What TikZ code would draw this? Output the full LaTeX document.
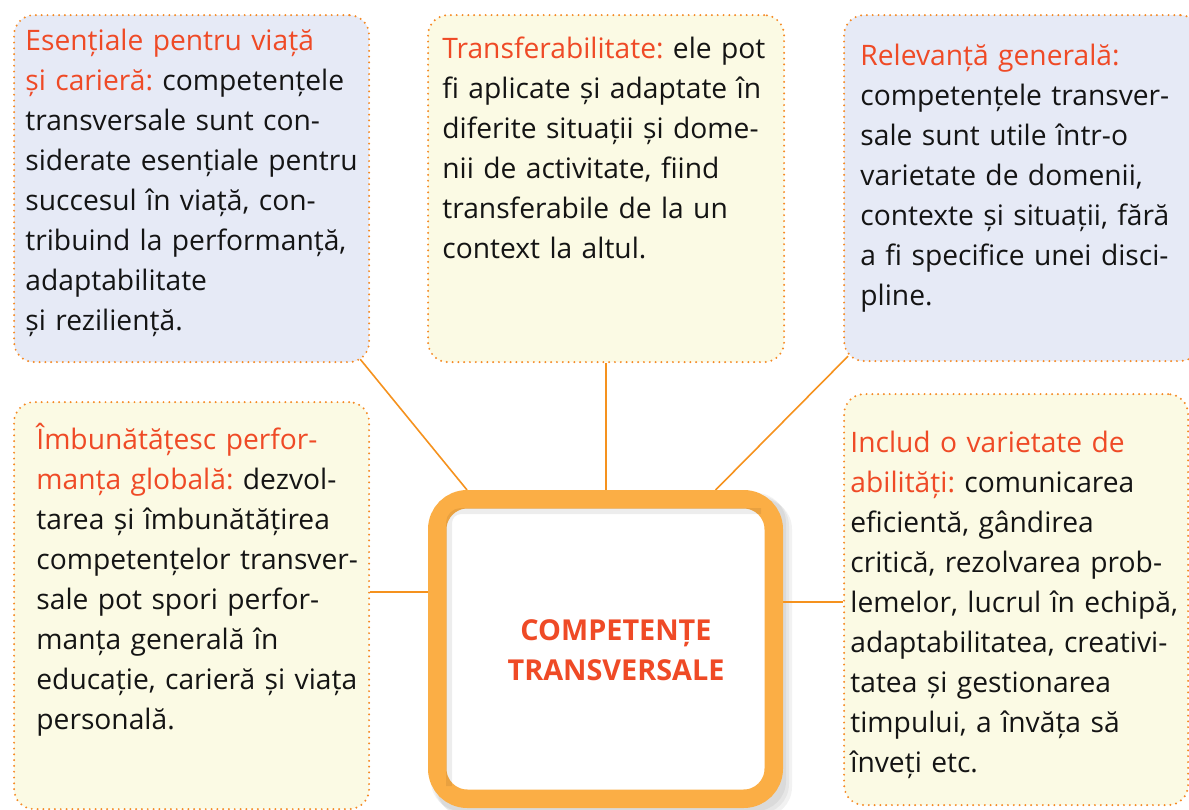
\documentclass[tikz,border=0pt]{standalone}
\usepackage{fontspec}
\setmainfont{Open Sans}
\usetikzlibrary{positioning,backgrounds,calc}
\frenchspacing

\definecolor{headred}{HTML}{EF4A26}
\definecolor{dotorange}{HTML}{F58A25}
\definecolor{linkorange}{HTML}{F5921E}
\definecolor{ringorange}{HTML}{FBAE45}
\definecolor{cardblue}{HTML}{E6EAF6}
\definecolor{cardyellow}{HTML}{FBFAE4}

\tikzset{
  card/.style={draw=dotorange, line width=1.1pt, dash pattern=on 0pt off 2.9pt,
    line cap=round, rounded corners=10pt, anchor=north west, inner sep=0pt},
  cardtext/.style={anchor=base west, align=left, text width=220pt, inner sep=0pt,
    font=\fontsize{14.1}{20}\selectfont, text=black!92},
  link/.style={draw=linkorange, line width=0.8pt},
  hub/.style={draw=ringorange, line width=9.25pt, rounded corners=15pt, fill=white,
    inner sep=0pt, minimum width=168.25pt, minimum height=149.75pt},
  hubtext/.style={align=center, inner sep=0pt, text=headred,
    font=\bfseries\fontsize{14.4}{20}\selectfont}
}
\newcommand{\head}[1]{\textcolor{headred}{#1}}

\begin{document}
\begin{tikzpicture}[x=0.5pt, y=-0.5pt]
  \useasboundingbox (0,0) rectangle (1189,809);

  % cards
  \node[card, fill=cardblue, minimum width=177.5pt, minimum height=173.5pt] (esent) at (13,14) {};
  \node[card, fill=cardyellow, minimum width=178pt, minimum height=173.5pt] (transf) at (427,14) {};
  \node[card, fill=cardblue, minimum width=178pt, minimum height=173pt] (relev) at (843,14) {};
  \node[card, fill=cardyellow, minimum width=177.5pt, minimum height=203.5pt] (improve) at (13,401) {};
  \node[card, fill=cardyellow, minimum width=172pt, minimum height=205.5pt] (incl) at (843,393) {};

  % center
  \node[hub] (hub) at (605.5,649) {};
  \draw[black, opacity=0.07, line width=3pt, rounded corners=6pt]
    ($(hub.south west)+(21,-22)$) |- ($(hub.north east)+(-22,21)$);
  \node[hubtext] (hubtitle) at (616,650) {COMPETENȚE\\TRANSVERSALE};

  \begin{scope}[on background layer]
    \foreach \s in {3,6,9}
      \fill[black, opacity=0.05, rounded corners=15pt]
        ($(hub.north west)+(\s,\s)$) rectangle ($(hub.south east)+(\s,\s)$);
    \draw[link] ($(esent.south east)+(-10,-4)$) -- ($(hub.north west)!0.11!(hub.north east)$);
    \draw[link] (transf.south) -- (transf.south |- hub.north);
    \draw[link] ($(relev.south west)+(5,-6)$) -- ($(hub.north west)!0.81!(hub.north east)$);
    \draw[link] (improve.east |- 0,592) -- (hub.west |- 0,592);
    \draw[link] (hub.east |- 0,602) -- (incl.west |- 0,602);
  \end{scope}

  % texts
  \node[cardtext] (esent-t) at (25,50) {\head{Esențiale pentru viață}\\
    \head{și carieră:} competențele\\
    transversale sunt con-\\
    siderate esențiale pentru\\
    succesul în viață, con-\\
    tribuind la performanță,\\
    adaptabilitate\\
    și reziliență.};
  \node[cardtext] (transf-t) at (442,58) {\head{Transferabilitate:} ele pot\\
    fi aplicate și adaptate în\\
    diferite situații și dome-\\
    nii de activitate, fiind\\
    transferabile de la un\\
    context la altul.};
  \node[cardtext] (relev-t) at (860,65) {\head{Relevanță generală:}\\
    competențele transver-\\
    sale sunt utile într-o\\
    varietate de domenii,\\
    contexte și situații, fără\\
    a fi specifice unei disci-\\
    pline.};
  \node[cardtext] (improve-t) at (36,449) {\head{Îmbunătățesc perfor-}\\
    \head{manța globală:} dezvol-\\
    tarea și îmbunătățirea\\
    competențelor transver-\\
    sale pot spori perfor-\\
    manța generală în\\
    educație, carieră și viața\\
    personală.};
  \node[cardtext] (incl-t) at (850,452) {\head{Includ o varietate de}\\
    \head{abilități:} comunicarea\\
    eficientă, gândirea\\
    critică, rezolvarea prob-\\
    lemelor, lucrul în echipă,\\
    adaptabilitatea, creativi-\\
    tatea și gestionarea\\
    timpului, a învăța să\\
    înveți etc.};
\end{tikzpicture}
\end{document}
